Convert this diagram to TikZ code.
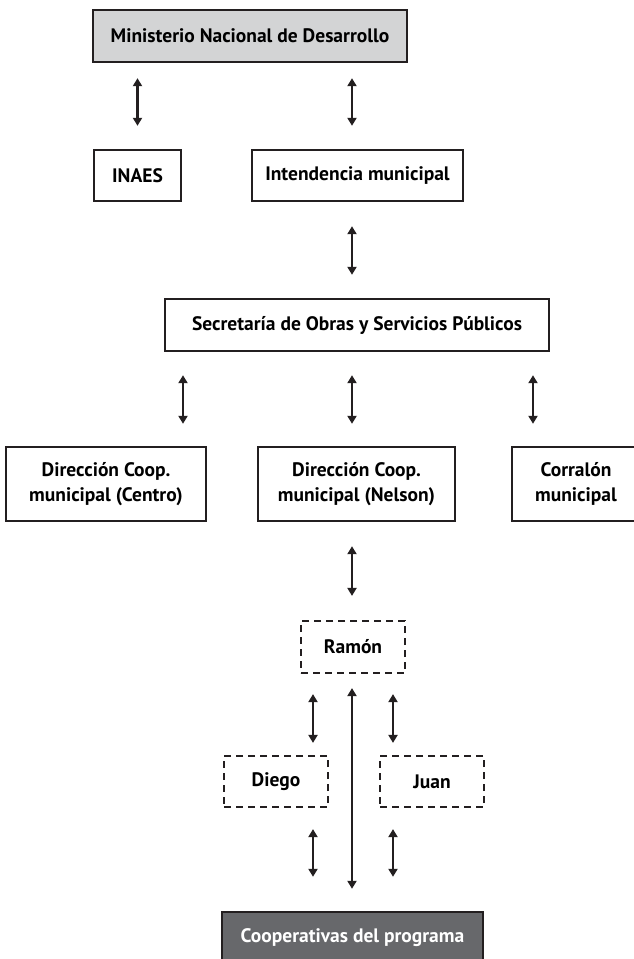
\documentclass[tikz,border=0pt]{standalone}
\usepackage{fontspec}
\setmainfont{PT Sans}
\usetikzlibrary{arrows.meta}

\definecolor{boxline}{HTML}{231F20}
\definecolor{lightfill}{HTML}{D3D4D5}
\definecolor{darkfill}{HTML}{67686B}

\begin{document}
\begin{tikzpicture}[
            x=1pt,
            y=-1pt,
            font=\fontsize{19.5}{25}\selectfont\bfseries,
            box/.style={draw=boxline, line width=2.4pt, align=center, inner sep=0pt},
            dashbox/.style={box, line width=2.2pt, dash pattern=on 7pt off 5pt},
            link/.style={boxline, line width=2.2pt, {Triangle[length=8pt,width=9pt]}-{Triangle[length=8pt,width=9pt]}}
        ]
        \useasboundingbox (0,0) rectangle (633,959);

        \coordinate (axis) at (352,0);
        \coordinate (colL) at (183,0);
        \coordinate (colR) at (533,0);
        \coordinate (subL) at (313,0);
        \coordinate (subR) at (393,0);

        \node[box, fill=lightfill, minimum width=314pt, minimum height=52pt] (ministerio) at (250,36) {Ministerio Nacional de Desarrollo};
        \node[box, minimum width=87pt, minimum height=51pt] (inaes) at (137.5,175.5) {INAES};
        \node[box, minimum width=211pt, minimum height=51pt] (intendencia) at (357.5,175.5) {Intendencia municipal};
        \node[box, minimum width=384pt, minimum height=52pt] (secretaria) at (357,325) {Secretaría de Obras y Servicios Públicos};
        \node[box, minimum width=200pt, minimum height=74pt] (centro) at (106,484) {Dirección Coop.\\ municipal (Centro)};
        \node[box, minimum width=197pt, minimum height=74pt] (nelson) at (356.5,484) {Dirección Coop.\\ municipal (Nelson)};
        \node[box, minimum width=128pt, minimum height=74pt] (corralon) at (576,484) {Corralón\\ municipal};
        \node[dashbox, minimum width=104pt, minimum height=52pt] (ramon) at (353,647) {Ramón};
        \node[dashbox, minimum width=104pt, minimum height=51pt] (diego) at (276,781.5) {Diego};
        \node[dashbox, minimum width=104pt, minimum height=51pt] (juan) at (432,781.5) {Juan};
        \node[box, fill=darkfill, text=white, minimum width=261pt, minimum height=52pt] (coop) at (352.5,938) {Cooperativas del programa};

        \draw[link, shorten <=15pt, shorten >=23pt] (ministerio.south -| inaes) -- (inaes.north);
        \draw[link, shorten <=15pt, shorten >=23pt] (ministerio.south -| axis) -- (intendencia.north -| axis);
        \draw[link, shorten <=24pt, shorten >=23pt] (intendencia.south -| axis) -- (secretaria.north -| axis);

        \draw[link, shorten <=23pt, shorten >=22pt] (secretaria.south -| colL) -- (centro.north -| colL);
        \draw[link, shorten <=23pt, shorten >=22pt] (secretaria.south -| axis) -- (nelson.north -| axis);
        \draw[link, shorten <=23pt, shorten >=22pt] (secretaria.south -| colR) -- (corralon.north -| colR);

        \draw[link, shorten <=24pt, shorten >=24pt] (nelson.south -| axis) -- (ramon.north -| axis);

        \draw[link, shorten <=20pt, shorten >=12pt] (ramon.south -| subL) -- (diego.north -| subL);
        \draw[link, shorten <=20pt, shorten >=12pt] (ramon.south -| subR) -- (juan.north -| subR);
        \draw[link, shorten <=14pt, shorten >=22pt] (ramon.south -| axis) -- (coop.north -| axis);

        \draw[link, shorten <=21pt, shorten >=34pt] (diego.south -| subL) -- (coop.north -| subL);
        \draw[link, shorten <=21pt, shorten >=34pt] (juan.south -| subR) -- (coop.north -| subR);
    \end{tikzpicture}
\end{document}
